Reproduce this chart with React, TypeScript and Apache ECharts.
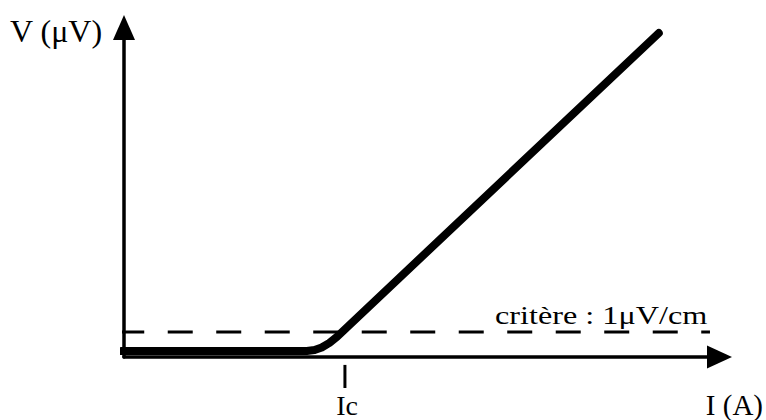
import React, { useEffect, useRef } from "react";
import * as echarts from "echarts";

// Schematic V(I) characteristic (arbitrary units, 0..100 on each axis)
const curveI = [-0.5, 30.7, 32.0, 33.2, 34.5, 35.8, 89.8];
const curveV = [1.8, 1.8, 2.1, 2.9, 4.3, 6.2, 98.3];
const criterionV = 7.6;
const criterionRange = [-0.8, 98.4];
const icValue = 37.1;
const icTickRange = [-2.4, -9.4];

const yTitle = "V (μV)";
const xTitle = "I (A)";
const icLabel = "Ic";
const criterionLabel = "critère : 1μV/cm";

const FONT = "Liberation Serif";

export default function App() {
  const ref = useRef<HTMLDivElement>(null);
  useEffect(() => {
    if (!ref.current) return;
    const chart = echarts.init(ref.current, null, { renderer: "svg" });
    const curve = curveI.map((x, i) => [x, curveV[i]]);
    const crit = criterionRange.map((x) => [x, criterionV]);
    const tick = icTickRange.map((y) => [icValue, y]);
    const axisCommon = {
      type: "value" as const,
      min: 0,
      max: 100,
      axisLabel: { show: false },
      axisTick: { show: false },
      splitLine: { show: false },
    };
    const txt = (text: string, size: number, align: string) => ({
      text,
      fontFamily: FONT,
      fontSize: size,
      fill: "#000",
      textAlign: align,
      textVerticalAlign: "middle",
    });
    chart.setOption({
      animation: false,
      backgroundColor: "#fff",
      grid: { left: 124, right: 46.5, top: 27.5, bottom: 63, containLabel: false },
      xAxis: {
        ...axisCommon,
        axisLine: {
          show: true,
          symbol: ["none", "triangle"],
          symbolSize: [23, 25],
          lineStyle: { color: "#000", width: 3.5 },
        },
      },
      yAxis: {
        ...axisCommon,
        axisLine: {
          show: true,
          symbol: ["none", "triangle"],
          symbolSize: [22, 25],
          lineStyle: { color: "#000", width: 3.5 },
        },
      },
      series: [
        {
          type: "line",
          data: crit,
          symbol: "none",
          clip: false,
          silent: true,
          lineStyle: { color: "#000", width: 3, type: [25, 23.5] },
          z: 2,
        },
        {
          type: "line",
          data: tick,
          symbol: "none",
          clip: false,
          silent: true,
          lineStyle: { color: "#000", width: 3 },
          z: 2,
        },
        {
          type: "line",
          data: curve,
          symbol: "none",
          clip: false,
          silent: true,
          lineStyle: { color: "#000", width: 8, cap: "round", join: "round" },
          z: 3,
        },
      ],
      graphic: [
        { type: "text", x: 10, y: 31, style: txt(yTitle, 32, "left") },
        { type: "text", x: 763, y: 405, style: txt(xTitle, 29, "right") },
        { type: "text", x: 347, y: 405, style: txt(icLabel, 28, "center") },
        { type: "text", x: 495, y: 315, scaleX: 1.24, style: txt(criterionLabel, 26, "left") },
      ],
    });
    return () => chart.dispose();
  }, []);
  return (
    <div
      ref={ref}
      style={{ position: "fixed", left: 0, top: 0, width: 766, height: 420, background: "#fff" }}
    />
  );
}
